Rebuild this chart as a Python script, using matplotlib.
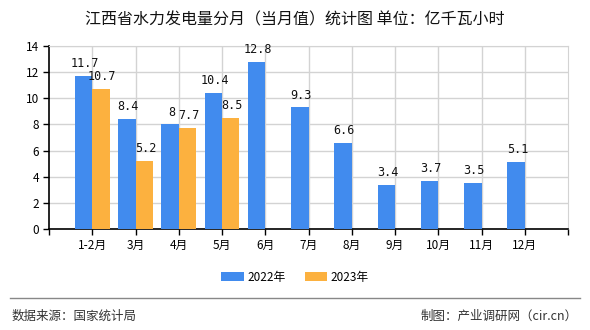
import matplotlib
matplotlib.use("Agg")
import matplotlib.pyplot as plt
from matplotlib.lines import Line2D
import numpy as np

plt.rcParams['font.family'] = ['Noto Sans CJK SC', 'DejaVu Sans']

categories = ["1-2月", "3月", "4月", "5月", "6月", "7月", "8月", "9月", "10月", "11月", "12月"]
v2022 = [11.7, 8.4, 8, 10.4, 12.8, 9.3, 6.6, 3.4, 3.7, 3.5, 5.1]
v2023 = [10.7, 5.2, 7.7, 8.5]
lab2022 = ["11.7", "8.4", "8", "10.4", "12.8", "9.3", "6.6", "3.4", "3.7", "3.5", "5.1"]
lab2023 = ["10.7", "5.2", "7.7", "8.5"]
yticks = [0, 2, 4, 6, 8, 10, 12, 14]

c22 = "#418BEE"
c23 = "#FCB13F"

fig = plt.figure(figsize=(5.9, 3.3), dpi=100)
ax = fig.add_axes([49/590, 1-229/330, 519/590, 183/330])

x = np.arange(len(categories))
w = 0.4
ax.bar(x - w/2, v2022, width=w, color=c22, zorder=3, label="2022年")
x23 = np.arange(len(v2023))
ax.bar(x23 + w/2, v2023, width=w, color=c23, zorder=3, label="2023年")

lab_font = dict(fontsize=8.5, family=['DejaVu Sans Mono'], color="#111111")
for xi, v, t in zip(x, v2022, lab2022):
    ax.text(xi - w/2 + 0.03, v + 0.45, t, ha="center", va="bottom", **lab_font)
for xi, v, t in zip(x23, v2023, lab2023):
    ax.text(xi + w/2 + 0.03, v + 0.45, t, ha="center", va="bottom", **lab_font)

ax.set_xlim(-1, len(categories))
ax.set_ylim(0, 14)
ax.set_yticks(yticks)
ax.set_yticklabels([str(t) for t in yticks], fontsize=8.5)
ax.set_xticks(list(x))
ax.set_xticklabels(categories, fontsize=8.5)
ax.set_xticks([-1, len(categories)], minor=True)
ax.tick_params(axis="x", which="both", length=4, width=1, color="#000000", pad=3)
ax.tick_params(axis="y", length=4, width=1, color="#000000", pad=3)

ax.grid(True, color="#D3D3D3", linewidth=1, zorder=0)
ax.set_axisbelow(True)
for s in ["top", "right"]:
    ax.spines[s].set_color("#D3D3D3")
for s in ["left", "bottom"]:
    ax.spines[s].set_color("#000000")
    ax.spines[s].set_linewidth(1.2)

fig.text(0.5, 1-20/330, "江西省水力发电量分月（当月值）统计图 单位：亿千瓦小时",
         ha="center", va="center", fontsize=11.5, fontweight="medium", color="#111111")

leg = fig.legend(loc="center", bbox_to_anchor=(0.5, 1-277/330), ncol=2, frameon=False,
                 fontsize=8.5, handlelength=1.9, handleheight=0.8, columnspacing=1.6,
                 handletextpad=0.3)

fig.add_artist(Line2D([10/590, 580/590], [1-298/330, 1-298/330], color="#888888", linewidth=1))
fig.text(12/590, 1-316/330, "数据来源：国家统计局", ha="left", va="center", fontsize=9, color="#333333")
fig.text(578/590, 1-316/330, "制图：产业调研网（cir.cn）", ha="right", va="center", fontsize=9, color="#333333")

fig.savefig("out.png", dpi=100)
